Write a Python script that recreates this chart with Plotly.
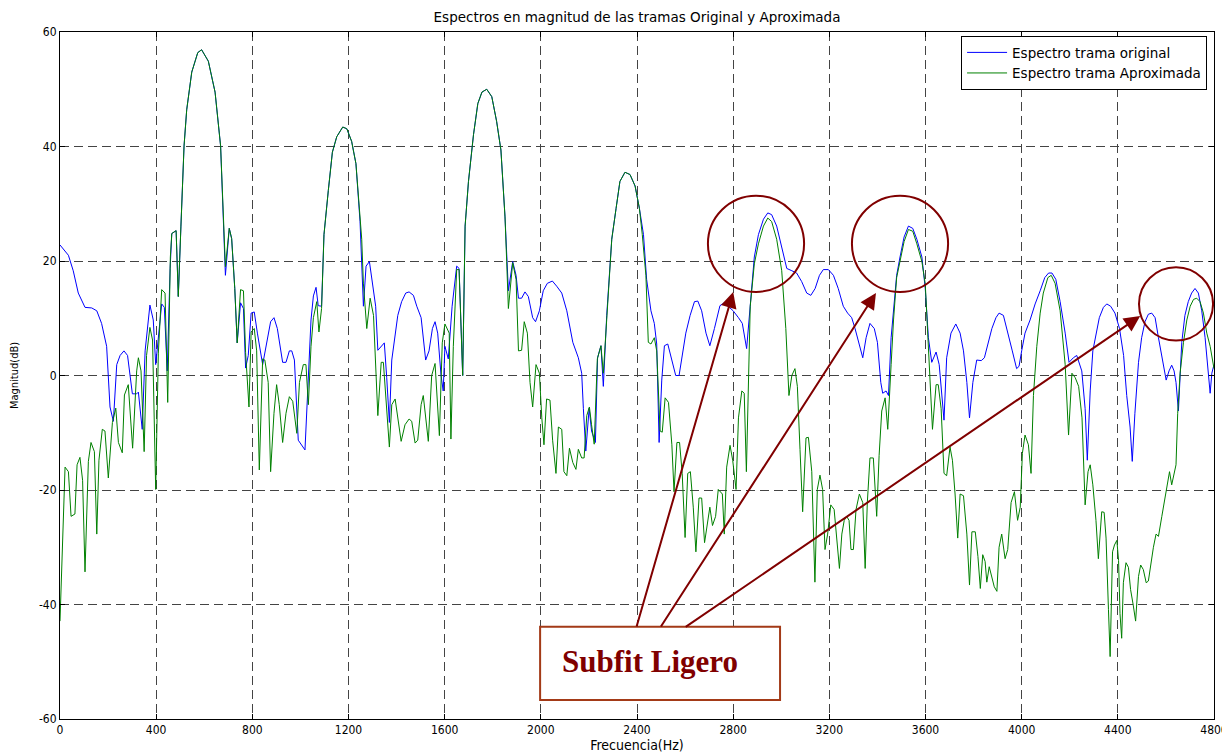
import plotly.graph_objects as go

# ---------------- data ----------------
freq_orig = [0, 35, 55, 76, 104, 132, 153, 173, 194, 208, 222, 236, 250, 266, 281, 301, 319, 326, 342, 354,
             374, 388, 398, 409, 423, 434, 446, 458, 465, 483, 492, 503, 516, 527, 548, 573, 589,
             617, 645, 668, 679, 688, 704, 714, 727, 737, 751, 763, 772, 783, 795, 808, 821, 843, 876, 890,
             904, 926, 940, 954, 964, 975, 991, 1019, 1044, 1054, 1065, 1074, 1088, 1098, 1116, 1133, 1151,
             1176, 1193, 1213, 1231, 1248,
             1262, 1273, 1287, 1303, 1313, 1322, 1349, 1359, 1370, 1380, 1391, 1405, 1421, 1438, 1452, 1470,
             1484, 1502, 1521, 1535, 1549, 1560, 1571, 1585, 1594, 1601, 1615, 1631, 1650, 1660, 1675, 1685,
             1699, 1720, 1738, 1755, 1775, 1796, 1816, 1834, 1851, 1858,
             1865, 1883, 1897, 1907, 1920, 1934, 1948, 1966, 1978, 1994, 2010, 2027, 2048, 2066, 2087, 2108,
             2133, 2156, 2170, 2177, 2187, 2201, 2211, 2227, 2236, 2250, 2260, 2274, 2295, 2313, 2329, 2350,
             2371, 2392, 2410, 2427,
             2440, 2458, 2472, 2482, 2492, 2503, 2514, 2528, 2542, 2561, 2575, 2589, 2603, 2621, 2639, 2653,
             2669, 2687, 2703, 2722, 2745, 2763, 2780, 2800, 2822, 2838, 2856, 2874, 2888, 2905, 2926, 2944,
             2960, 2981, 3002, 3023, 3044,
             3064, 3085, 3106, 3123, 3141, 3159, 3175, 3196, 3217, 3237, 3258, 3276, 3293, 3307, 3321, 3339,
             3353, 3369, 3387, 3400, 3414, 3422, 3436, 3446, 3457, 3467, 3480, 3494, 3511, 3529, 3547, 3564,
             3585, 3599,
             3612, 3626, 3644, 3657, 3668, 3677, 3688, 3706, 3726, 3744, 3758, 3772, 3783, 3797, 3813, 3832,
             3845, 3862, 3876, 3893, 3906, 3924, 3944, 3961, 3979, 3989, 4000, 4014, 4035, 4056, 4077, 4096,
             4112, 4126, 4142, 4160, 4181, 4197,
             4215, 4229, 4250, 4264, 4273, 4285, 4296, 4309, 4323, 4340, 4354, 4370, 4388, 4407, 4424, 4437,
             4451, 4460, 4471, 4486, 4499, 4513, 4527, 4541, 4555, 4569, 4587, 4601, 4613, 4624, 4634, 4642,
             4652, 4666, 4679, 4693, 4707, 4721, 4735, 4749, 4763, 4773, 4784, 4791, 4800]
mag_orig = [22.8, 21.0, 18.3, 14.4, 11.9, 11.8, 11.3, 9.1, 5.1, -5.5, -8.0, 1.9, 3.5, 4.3, 3.5, -3.2, -3.2, -2.9, -9.4, 4.3,
            12.3, 9.7, 1.9, 6.6, 12.5, 11.9, 0.8, 18.7, 24.8, 25.3, 13.8, 26.1, 40.1, 46.4, 53.0, 56.4, 56.9,
            54.9, 49.5, 40.1, 28.4, 17.5, 25.7, 23.9, 15.2, 5.7, 12.7, 11.7, 1.3, 3.5, 10.9, 11.1, 7.4, 1.9, 9.4, 10.1,
            8.2, 2.3, 2.3, 4.3, 4.3, 2.7, -11.3, -13.0, 9.7, 13.9, 15.4, 12.2, 12.1, 24.6, 32.3, 39.0, 41.7,
            43.4, 43.1, 40.9, 37.0, 26.9,
            12.1, 19.1, 19.9, 15.2, 12.1, 4.4, 5.7, -0.4, -8.2, 2.7, 6.6, 10.5, 12.9, 14.4, 14.6, 14.0,
            12.1, 10.1, 2.7, 4.3, 8.2, 9.4, 7.4, 0.0, -2.7, 5.1, 2.9, 12.1, 19.1, 18.7, 0.0, 26.1,
            33.9, 42.1, 47.5, 49.5, 50.0, 48.7, 44.4, 39.4, 27.7, 19.9,
            14.8, 19.9, 17.5, 13.5, 13.5, 14.6, 13.8, 10.1, 9.4, 11.3, 14.8, 16.1, 16.5, 15.6, 14.4, 11.3,
            5.8, 3.1, 0.4, -5.8, -13.2, -5.7, -9.7, -11.7, 3.1, 5.2, -1.9, 10.5, 23.8, 29.2, 33.9, 35.5,
            35.1, 33.1, 29.2, 24.6,
            16.8, 11.3, 9.1, 5.5, -11.7, -0.8, 5.2, 5.5, 3.1, 0.0, 0.0, 3.5, 7.4, 10.5, 12.9, 13.0,
            11.3, 7.4, 5.2, 8.2, 12.2, 12.7, 12.1, 11.3, 10.1, 9.1, 4.7, 14.4, 20.7, 24.6, 27.3, 28.4,
            28.1, 26.1, 22.2, 18.7, 18.3,
            17.9, 16.4, 14.4, 14.0, 15.2, 17.5, 18.5, 18.5, 17.5, 15.2, 12.1, 10.9, 10.1, 8.2, 5.8, 3.1,
            6.6, 9.1, 8.2, 5.8, -1.2, -3.1, -2.7, -3.5, 6.6, 11.3, 17.5, 20.7, 24.2, 26.1, 25.7, 23.8,
            20.7, 15.2,
            6.6, 2.3, 4.1, 1.9, -3.9, -7.8, 3.1, 7.4, 9.0, 7.4, 4.3, -1.2, -7.4, -1.2, 2.7, 2.6,
            3.1, 5.7, 8.2, 10.1, 10.9, 10.5, 7.4, 4.3, 1.2, 1.6, 4.3, 7.4, 9.7, 12.5, 14.8, 17.1,
            17.9, 17.9, 16.8, 12.9, 7.4, 2.3,
            3.1, 3.5, 0.8, -5.8, -14.8, -2.7, 4.3, 7.4, 10.1, 11.9, 12.5, 12.1, 10.9, 8.2, 3.5, -3.5,
            -9.0, -15.0, -6.6, 2.3, 6.6, 9.4, 10.7, 10.9, 10.1, 6.6, 2.7, -0.8, 0.8, 1.8, 0.8, -1.2,
            -6.2, 5.8, 10.5, 12.9, 14.4, 15.2, 14.4, 11.3, 6.6, 1.2, -3.1, 0.4, 1.9]

freq_aprox = [0, 21, 35, 46, 62, 71, 83, 94, 104, 118, 129, 143, 153, 162, 176, 187, 201, 218, 232, 243,
              259, 268, 284, 302, 319, 326, 337, 350, 360, 374, 385, 398, 409, 423, 437, 448, 459, 465, 483,
              492, 503, 516, 527, 548, 573, 589, 617, 645, 668, 679, 688, 704, 714, 727, 737, 751, 763, 772,
              786, 795, 808, 818, 829, 843, 852, 866, 876, 890, 901, 912, 926, 940, 954, 968, 985, 996, 1012,
              1023, 1033, 1044, 1054, 1068, 1077, 1088, 1098, 1116, 1133, 1151, 1176, 1193, 1213, 1231, 1248,
              1255, 1262, 1276, 1290, 1304, 1322, 1336, 1345, 1359, 1370, 1380, 1394, 1419, 1435, 1452, 1463,
              1477, 1488, 1502, 1511, 1532, 1546, 1560, 1578, 1590, 1601, 1619, 1626, 1636, 1650, 1660, 1675,
              1685, 1699, 1720, 1738, 1755, 1775, 1796, 1816, 1834, 1851, 1858, 1865, 1883, 1897, 1907, 1920,
              1931, 1944, 1955, 1966, 1980, 1994, 2004, 2013, 2024, 2038, 2049, 2063, 2073, 2087, 2096, 2108,
              2119, 2133, 2146, 2156, 2170, 2180, 2191, 2202, 2211, 2222, 2235, 2250, 2260, 2274, 2295, 2313,
              2329, 2350, 2371, 2392, 2410, 2422, 2437, 2447, 2458, 2472, 2482, 2496, 2505, 2517, 2531, 2545,
              2554, 2566, 2577, 2588, 2600, 2611, 2622, 2634, 2645, 2658, 2669, 2681, 2695, 2703, 2714, 2727,
              2738, 2755, 2763, 2773, 2787, 2798, 2812, 2822, 2836, 2846, 2855, 2871, 2888, 2905, 2926, 2944,
              2960, 2981, 3002, 3019, 3032, 3044, 3057, 3067, 3078, 3089, 3103, 3113, 3127, 3140, 3150, 3161,
              3172, 3182, 3193, 3206, 3220, 3231, 3242, 3252, 3262, 3272, 3282, 3290, 3300, 3311, 3325, 3339,
              3349, 3358, 3369, 3383, 3397, 3407, 3418, 3432, 3443, 3457, 3467, 3480, 3494, 3511, 3529, 3547,
              3564, 3585, 3599, 3612, 3629, 3644, 3653, 3665, 3677, 3688, 3702, 3712, 3723, 3734, 3744, 3758,
              3772, 3783, 3793, 3807, 3818, 3828, 3838, 3848, 3855, 3865, 3876, 3886, 3897, 3906, 3917, 3931,
              3942, 3956, 3970, 3983, 3994, 4003, 4014, 4028, 4039, 4049, 4063, 4077, 4090, 4109, 4123, 4139,
              4160, 4181, 4195, 4209, 4223, 4237, 4251, 4264, 4276, 4285, 4296, 4309, 4319, 4333, 4343, 4351,
              4361, 4368, 4378, 4386, 4396, 4403, 4409, 4416, 4423, 4434, 4444, 4453, 4464, 4474, 4486, 4495,
              4506, 4518, 4527, 4538, 4548, 4559, 4569, 4583, 4594, 4604, 4615, 4624, 4634, 4642, 4649, 4659,
              4673, 4687, 4701, 4715, 4728, 4742, 4756, 4770, 4784, 4800]
mag_aprox = [-42.9, -16.0, -16.8, -24.6, -24.2, -15.6, -14.3, -18.3, -34.3, -15.0, -11.7, -13.3, -27.7, -14.8, -9.4, -9.7, -17.9, -8.2, -5.7, -11.7,
             -13.5, -3.4, -1.6, -12.7, 0.8, 3.1, 0.8, -13.3, 3.5, 8.4, 6.2, -19.9, 3.9, 15.0, 14.4, -4.7, 20.7, 24.8, 25.3,
             13.8, 26.1, 40.1, 46.4, 53.0, 56.4, 56.9, 54.9, 49.5, 40.1, 28.4, 19.0, 25.7, 23.9, 15.2, 5.7, 15.0, 14.8, 4.0,
             -5.5, 7.6, 8.2, 4.3, -16.5, 2.9, 2.7, -1.2, -16.8, -6.6, -1.6, -5.1, -11.7, -6.6, -3.7, -4.5, -10.1, -1.2, 1.9,
             1.9, -5.1, 5.1, 10.1, 12.9, 7.6, 11.7, 24.6, 32.3, 39.0, 41.7, 43.4, 43.1, 40.9, 37.0, 28.0,
             23.8, 16.0, 8.2, 13.5, 10.5, -7.0, 2.3, 2.3, -5.1, -12.5, -5.1, -4.1, -11.5, -8.6, -7.6, -8.0,
             -11.8, -11.3, -5.1, -3.5, -11.5, 0.0, 2.1, -10.5, 5.7, 9.0, 7.4, -11.1, 5.1, 18.5, 18.5, 0.0,
             26.1, 33.9, 42.1, 47.5, 49.5, 50.0, 48.7, 44.4, 39.4, 27.7, 19.9, 11.7, 19.7, 16.8, 4.3, 4.4,
             9.4, 7.4, -1.2, -5.5, 1.9, 0.4, -7.4, -12.1, -4.1, -4.3, -11.3, -17.1, -9.0, -9.4, -16.8, -17.5,
             -12.7, -15.2, -16.4, -12.9, -14.4, -14.4, -7.0, -5.5, -8.6, -12.0, 2.9, 5.2, 0.4, 10.5, 23.8, 29.2,
             33.9, 35.5, 35.1, 33.1, 29.2, 24.6, 17.5, 5.8, 5.5, 6.6, 4.3, -9.7, -9.9, -3.9, -4.7, -12.1,
             -20.3, -11.7, -11.7, -17.1, -28.3, -17.1, -16.8, -23.0, -30.8, -21.4, -21.4, -29.2, -25.7, -23.0, -26.2, -24.6,
             -19.9, -20.7, -27.7, -16.0, -12.2, -14.8, -19.9, -7.4, -2.7, -3.1, -16.8, 12.1, 19.5, 23.0, 26.1, 27.5,
             26.9, 23.8, 18.3, 8.2, -3.5, 0.0, 1.2, -1.9, -12.9, -23.8, -10.9, -10.8, -16.8, -36.1, -19.9, -17.4,
             -19.9, -30.4, -27.7, -22.6, -23.4, -28.5, -33.7, -27.7, -25.3, -24.6, -25.3, -30.4, -30.4, -23.4, -20.7, -22.2,
             -33.7, -22.2, -14.4, -14.4, -24.6, -14.0, -6.2, -3.9, -9.4, 1.9, 9.7, 17.1, 19.9, 23.4, 25.5, 25.2,
             23.0, 19.9, 16.0, 5.8, -9.4, -1.6, -1.6, -5.8, -17.1, -17.5, -12.5, -14.8, -20.7, -28.4, -20.7, -21.0,
             -27.7, -36.6, -27.3, -27.3, -31.6, -37.2, -31.3, -32.5, -36.1, -33.4, -35.0, -36.9, -37.7, -30.0, -27.7, -32.0,
             -30.4, -22.2, -20.3, -25.3, -23.0, -13.6, -10.4, -12.1, -17.1, -3.5, 5.1, 10.9, 14.4, 17.1, 17.5, 16.1,
             11.3, 1.9, -10.4, 0.4, -0.4, -1.9, -7.4, -22.6, -16.8, -15.6, -19.1, -25.3, -32.0, -23.8, -23.9, -28.4,
             -40.9, -49.1, -30.8, -29.6, -28.8, -32.3, -41.6, -45.9, -36.2, -32.7, -33.5, -37.4, -40.1, -42.9, -35.1, -33.1,
             -33.9, -36.2, -35.9, -32.3, -30.0, -27.7, -28.1, -24.6, -21.8, -19.1, -16.8, -19.1, -16.8, -15.6, -6.6, 0.4,
             5.8, 9.7, 12.1, 13.3, 13.5, 12.9, 10.9, 7.4, 5.1, 1.2]

x_ticks = [0, 400, 800, 1200, 1600, 2000, 2400, 2800, 3200, 3600, 4000, 4400, 4800]
y_ticks = [-60, -40, -20, 0, 20, 40, 60]

title_text = "Espectros en magnitud de las tramas Original y Aproximada"
x_title = "Frecuencia(Hz)"
y_title = "Magnitud(dB)"
legend_names = ["Espectro trama original", "Espectro trama Aproximada"]
note_text = "Subfit Ligero"

# ---------------- figure ----------------
# The page body has an 8 px margin, so the figure is made 8 px smaller than the window.
W, H = 1222, 745
WIDE = "DejaVu Sans, Liberation Sans, sans-serif"
NARROW = "Liberation Sans Narrow, DejaVu Sans Condensed, Liberation Sans, sans-serif"
RED = "#800000"

fig = go.Figure()
fig.add_trace(go.Scatter(x=freq_orig, y=mag_orig, mode="lines", name=legend_names[0],
                         line=dict(color="#0000ff", width=1)))
fig.add_trace(go.Scatter(x=freq_aprox, y=mag_aprox, mode="lines", name=legend_names[1],
                         line=dict(color="#008000", width=1)))

axis_common = dict(showline=True, linecolor="black", linewidth=1, mirror="ticks",
                   ticks="inside", ticklen=5, tickcolor="black", automargin=False,
                   showgrid=True, gridcolor="#444444", gridwidth=1, griddash="9px,5px",
                   zeroline=False, tickfont=dict(family=NARROW, size=12, color="black"))

fig.update_xaxes(range=[0, 4800], tickvals=x_ticks, ticktext=[str(v) for v in x_ticks],
                 title=dict(text=x_title, font=dict(family=NARROW, size=14, color="black"), standoff=0),
                 **axis_common)
fig.update_yaxes(range=[-60, 60], tickvals=y_ticks, ticktext=[str(v) for v in y_ticks],
                 title=dict(text=y_title, font=dict(family=NARROW, size=11, color="black"), standoff=20),
                 **axis_common)

# Circles around the peaks
circles = [(2695, 3095, 14.6, 31.4), (3294, 3694, 14.6, 31.4), (4488, 4796, 6.1, 18.9)]
for x0, x1, y0, y1 in circles:
    fig.add_shape(type="circle", xref="x", yref="y", x0=x0, x1=x1, y0=y0, y1=y1,
                  line=dict(color=RED, width=2), layer="above")

# Note box
fig.add_shape(type="rect", xref="x", yref="y", x0=1997, x1=2995, y0=-56.7, y1=-43.9,
              line=dict(color="#a33a17", width=2), fillcolor="white", layer="above")
fig.add_annotation(x=2455, y=-50.0, xref="x", yref="y", text="<b>" + note_text + "</b>",
                   showarrow=False, font=dict(family="Liberation Serif, Times New Roman, serif",
                                              size=31, color=RED))

# Arrows (tip in data coords, tail offset in pixels)
arrows = [(2800, 14.6, -97, 336), (3394, 14.4, -216, 335), (4493, 10.4, -456, 312)]
for x, y, ax, ay in arrows:
    fig.add_annotation(x=x, y=y, xref="x", yref="y", ax=ax, ay=ay, axref="pixel", ayref="pixel",
                       text="", showarrow=True, arrowhead=2, arrowsize=1.6, arrowwidth=2,
                       arrowcolor=RED, standoff=0)

fig.update_layout(
    width=W, height=H,
    margin=dict(l=52, r=16, t=24, b=34, autoexpand=False),
    paper_bgcolor="white", plot_bgcolor="white",
    title=dict(text=title_text, x=629 / W, xanchor="center", y=1 - 9 / H, yanchor="middle",
               font=dict(family=WIDE, size=13.5, color="black")),
    legend=dict(x=0.994, y=0.994, xanchor="right", yanchor="top", bgcolor="white",
                bordercolor="black", borderwidth=1, font=dict(family=WIDE, size=13.5, color="black"),
                tracegroupgap=0, itemwidth=40),
    showlegend=True,
)

fig.write_html("out.html")
